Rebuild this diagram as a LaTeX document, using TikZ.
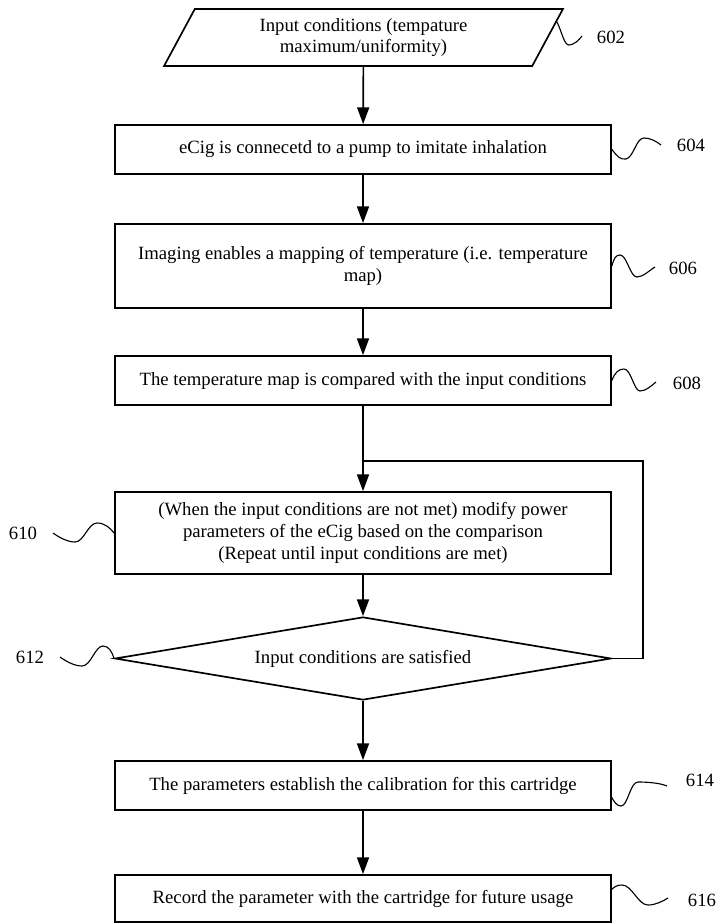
\documentclass[tikz,border=0pt]{standalone}
\usepackage{fontspec}
\setmainfont{Liberation Serif}
\usetikzlibrary{shapes.geometric}
\usetikzlibrary{arrows.meta}

\tikzset{
  stepbox/.style={draw,rectangle,line width=1.2pt,minimum width=12.4cm,minimum height=1.225cm,align=center,inner sep=2pt},
  flow/.style={line width=1.2pt,-{Triangle[length=0.42cm,width=0.3cm]}},
  link/.style={line width=1.2pt},
  wave/.style={line width=0.8pt},
  tag/.style={inner sep=0pt},
}

\begin{document}
\begin{tikzpicture}[x=0.025cm,y=-0.025cm,font=\fontsize{13.3}{15.5}\selectfont]
\useasboundingbox (0,0) rectangle (717,923);

% steps
\node[draw,trapezium,trapezium left angle=64,trapezium right angle=116,trapezium stretches=true,
  minimum width=9.975cm,minimum height=1.425cm,line width=1.2pt,align=center,inner sep=0pt]
  (n602) at (363.5,37.5) {Input conditions (tempature\\maximum/uniformity)};
\node[stepbox] (n604) at (363,149.5) {eCig is connecetd to a pump to imitate inhalation};
\node[stepbox,minimum height=2.1cm] (n606) at (363,266) {Imaging enables a mapping of temperature (i.e. temperature\\map)};
\node[stepbox] (n608) at (363,380.5) {The temperature map is compared with the input conditions};
\node[stepbox,minimum height=2.05cm] (n610) at (363,533) {(When the input conditions are not met) modify power\\parameters of the eCig based on the comparison\\(Repeat until input conditions are met)};
\node[draw,diamond,aspect=6,minimum width=12.4cm,minimum height=2.075cm,line width=1.2pt,inner sep=0pt]
  (n612) at (363,658.5) {Input conditions are satisfied};
\node[stepbox] (n614) at (363,785.5) {The parameters establish the calibration for this cartridge};
\node[stepbox,minimum height=1.175cm] (n616) at (363,898.5) {Record the parameter with the cartridge for future usage};

% flow
\coordinate (merge) at (363,461);
\coordinate (back) at (643,461);
\draw[flow] (n602) -- (n604);
\draw[flow] (n604) -- (n606);
\draw[flow] (n606) -- (n608);
\draw[flow] (n608) -- (n610);
\draw[flow] (n610) -- (n612);
\draw[flow] (n612) -- (n614);
\draw[flow] (n614) -- (n616);
\draw[link] (n612.east) -| (back) -- (merge);

% reference numerals
\draw[wave] (557,22) .. controls (562,32) and (564,45) .. (569,45) .. controls (574,45) and (579,40) .. (582,36);
\node[tag] (t602) at (611,37) {602};
\draw[wave] (n604.east) .. controls (617,156) and (620,160) .. (626,159) .. controls (634,157) and (636,138) .. (644,138) .. controls (650,138) and (656,141) .. (661,145);
\node[tag] (t604) at (691,145) {604};
\draw[wave] (n606.east) .. controls (614,258) and (616,255) .. (620,255) .. controls (627,255) and (630,277) .. (637,277) .. controls (643,277) and (650,270) .. (655,267);
\node[tag] (t606) at (683,268) {606};
\draw[wave] (n608.east) .. controls (615,372) and (619,369) .. (624,369) .. controls (631,369) and (634,391) .. (640,391) .. controls (646,391) and (651,386) .. (656,382);
\node[tag] (t608) at (687,383) {608};
\draw[wave] (53,533) .. controls (60,538) and (68,542) .. (75,542) .. controls (84,542) and (88,523) .. (97,523) .. controls (105,523) and (110,528) .. (n610.west);
\node[tag] (t610) at (23,533) {610};
\draw[wave] (60,657) .. controls (67,662) and (75,666) .. (82,666) .. controls (91,666) and (95,646) .. (103,646) .. controls (109,646) and (112,652) .. (n612.west);
\node[tag] (t612) at (30,657) {612};
\draw[wave] (611,796) .. controls (614,802) and (617,806) .. (621,806) .. controls (628,806) and (630,782) .. (638,782) .. controls (648,782) and (660,783) .. (667,786);
\node[tag] (t614) at (700,780) {614};
\draw[wave] (611,890) .. controls (615,886) and (618,885) .. (622,885) .. controls (632,885) and (638,905) .. (648,905) .. controls (656,905) and (663,901) .. (668,898);
\node[tag] (t616) at (702,900) {616};
\end{tikzpicture}
\end{document}
